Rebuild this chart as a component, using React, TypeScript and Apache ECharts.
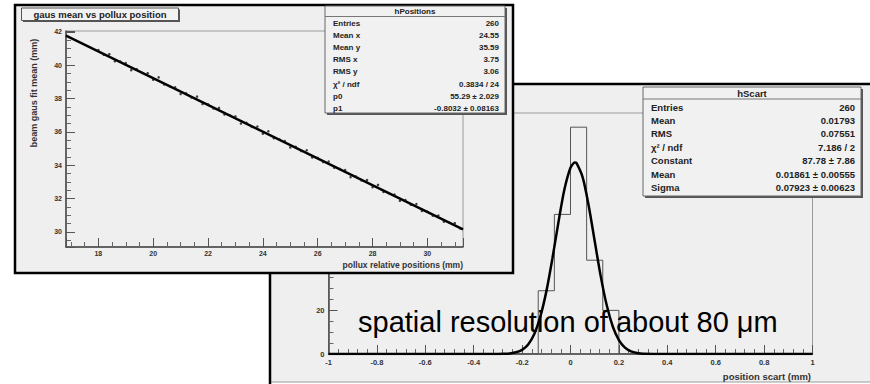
import { useEffect, useRef } from "react";
import * as echarts from "echarts";

// ---------- left plot: gaus mean vs pollux position ----------
const posX = [
  18.0, 18.2, 18.4, 18.6, 18.8, 19.0, 19.2, 19.4, 19.6, 19.8,
  20.0, 20.2, 20.4, 20.6, 20.8, 21.0, 21.2, 21.4, 21.6, 21.8,
  22.0, 22.2, 22.4, 22.6, 22.8, 23.0, 23.2, 23.4, 23.6, 23.8,
  24.0, 24.2, 24.4, 24.6, 24.8, 25.0, 25.2, 25.4, 25.6, 25.8,
  26.0, 26.2, 26.4, 26.6, 26.8, 27.0, 27.2, 27.4, 27.6, 27.8,
  28.0, 28.2, 28.4, 28.6, 28.8, 29.0, 29.2, 29.4, 29.6, 29.8,
  30.0, 30.2, 30.4, 30.6, 30.8, 31.0, 31.2,
];
const posY = [
  40.91, 40.62, 40.66, 40.23, 40.22, 40.13, 39.70, 39.76, 39.53, 39.52,
  39.13, 39.27, 38.84, 38.74, 38.67, 38.27, 38.32, 38.06, 38.12, 37.67,
  37.66, 37.40, 37.44, 37.05, 36.99, 36.93, 36.50, 36.55, 36.30, 36.32,
  35.89, 36.04, 35.62, 35.55, 35.45, 35.07, 35.11, 34.85, 34.90, 34.47,
  34.44, 34.19, 34.22, 33.85, 33.78, 33.71, 33.29, 33.32, 33.09, 33.11,
  32.68, 32.82, 32.40, 32.33, 32.25, 31.87, 31.91, 31.63, 31.68, 31.26,
  31.22, 30.98, 30.99, 30.62, 30.56, 30.53, 30.21,
];
const posFitX = [16.82, 31.3];
const posFitY = [41.78, 30.15];

const hPosLabels = ["Entries", "Mean x", "Mean y", "RMS x", "RMS y", "\u03C7\u00B2 / ndf", "p0", "p1"];
const hPosValues = ["260", "24.55", "35.59", "3.75", "3.06", "0.3834 / 24", "55.29 \u00B1 2.029", "-0.8032 \u00B1 0.08163"];

// ---------- right plot: position scart ----------
const scartRange = [-1, 1];
const scartCounts = [
  0, 0, 0, 0, 0, 0, 0, 0, 0, 0,
  0, 0, 0, 29, 64, 104, 43, 20, 0, 0,
  0, 0, 0, 0, 0, 0, 0, 0, 0, 0,
];
const gausX = [-1, -0.5, -0.3, -0.275, -0.25, -0.225, -0.2, -0.175, -0.15, -0.125, -0.1, -0.075, -0.05, -0.025, 0, 0.0186, 0.025, 0.05, 0.075, 0.1, 0.125, 0.15, 0.175, 0.2, 0.225, 0.25, 0.275, 0.3, 0.5, 1];
const gausY = [0, 0, 0.03, 0.1, 0.28, 0.77, 1.9, 4.4, 9.1, 17.0, 28.6, 43.7, 60.3, 75.5, 85.4, 87.8, 87.5, 81.1, 68.1, 51.8, 35.6, 22.2, 12.5, 6.4, 2.9, 1.2, 0.47, 0.16, 0, 0];

const hScartLabels = ["Entries", "Mean", "RMS", "\u03C7\u00B2 / ndf", "Constant", "Mean", "Sigma"];
const hScartValues = ["260", "0.01793", "0.07551", "7.186 / 2", "87.78 \u00B1 7.86", "0.01861 \u00B1 0.00555", "0.07923 \u00B1 0.00623"];

const FONT = "'Liberation Sans', Arial, Helvetica, sans-serif";
const PAD = "#efefef";

function statBox(
  x: number, y: number, w: number, h: number, title: string,
  labels: string[], values: string[], titleY: number, sepY: number,
  row0: number, step: number, fontSize: number, z: number
) {
  const els: any[] = [
    { type: "rect", z, shape: { x: x + 2, y: y + 2, width: w, height: h }, style: { fill: "#555" } },
    { type: "rect", z, shape: { x, y, width: w, height: h }, style: { fill: "#f1f1f1", stroke: "#666", lineWidth: 1 } },
    { type: "line", z, shape: { x1: x, y1: sepY, x2: x + w, y2: sepY }, style: { stroke: "#777", lineWidth: 1 } },
    {
      type: "text", z, x: x + w / 2, y: titleY,
      style: { text: title, align: "center", verticalAlign: "middle", fontSize, fontWeight: "bold", fontFamily: FONT, fill: "#222" },
    },
  ];
  labels.forEach((l, i) => {
    els.push({
      type: "text", z, x: x + 8, y: row0 + i * step,
      style: { text: l, align: "left", verticalAlign: "middle", fontSize, fontWeight: "bold", fontFamily: FONT, fill: "#222" },
    });
    els.push({
      type: "text", z, x: x + w - 6, y: row0 + i * step,
      style: { text: values[i], align: "right", verticalAlign: "middle", fontSize, fontWeight: "bold", fontFamily: FONT, fill: "#222" },
    });
  });
  return els;
}

function isMult(v: number, m: number) {
  return Math.abs(v / m - Math.round(v / m)) < 1e-6;
}

export default function App() {
  const ref = useRef<HTMLDivElement>(null);

  useEffect(() => {
    if (!ref.current) return;
    const chart = echarts.init(ref.current, undefined, { renderer: "svg" });

    const nb = scartCounts.length;
    const bw = (scartRange[1] - scartRange[0]) / nb;
    const histLine: number[][] = [[scartRange[0], 0]];
    scartCounts.forEach((c, i) => {
      const lo = scartRange[0] + i * bw;
      histLine.push([lo, c]);
      histLine.push([lo + bw, c]);
    });
    histLine.push([scartRange[1], 0]);

    const axisCommon = (z: number) => ({
      z,
      axisLine: { show: true, onZero: false, lineStyle: { color: "#444", width: 1.5 } },
      axisTick: { show: true, inside: true, length: 9, lineStyle: { color: "#555", width: 1 } },
      splitLine: { show: false },
    });

    const graphics: any[] = [
      // right panel background & border
      { type: "rect", z: 1, shape: { x: 270, y: 84, width: 610, height: 298 }, style: { fill: PAD } },
      { type: "line", z: 1, shape: { x1: 270, y1: 382, x2: 870, y2: 382 }, style: { stroke: "#9a9a9a", lineWidth: 1 } },
      { type: "line", z: 1, shape: { x1: 270, y1: 84, x2: 870, y2: 84 }, style: { stroke: "#000", lineWidth: 2.5 } },
      { type: "line", z: 1, shape: { x1: 270, y1: 84, x2: 270, y2: 384 }, style: { stroke: "#000", lineWidth: 2.5 } },
      {
        type: "text", z: 4, x: 811, y: 376,
        style: { text: "position scart (mm)", align: "right", verticalAlign: "middle", fontSize: 9.5, fontWeight: "bold", fontFamily: FONT, fill: "#333" },
      },
      ...statBox(643, 87, 218, 109, "hScart", hScartLabels, hScartValues, 93, 99, 107, 13.4, 9.5, 4),
      // left panel
      { type: "rect", z: 5, shape: { x: 15, y: 5, width: 498, height: 268 }, style: { fill: PAD, stroke: "#000", lineWidth: 2.5 } },
      {
        type: "text", z: 8, x: 463, y: 265,
        style: { text: "pollux relative positions (mm)", align: "right", verticalAlign: "middle", fontSize: 8.5, fontWeight: "bold", fontFamily: FONT, fill: "#333" },
      },
      {
        type: "text", z: 8, x: 34, y: 93, rotation: Math.PI / 2,
        style: { text: "beam gaus fit mean (mm)", align: "center", verticalAlign: "middle", fontSize: 9, fontWeight: "bold", fontFamily: FONT, fill: "#333" },
      },
      { type: "rect", z: 8, shape: { x: 23, y: 9.5, width: 157, height: 12.5 }, style: { fill: "#555" } },
      { type: "rect", z: 8, shape: { x: 21.5, y: 8, width: 157, height: 12.5 }, style: { fill: "#f2f2f2", stroke: "#555", lineWidth: 1 } },
      {
        type: "text", z: 8, x: 100, y: 14.5,
        style: { text: "gaus mean vs pollux position", align: "center", verticalAlign: "middle", fontSize: 9.5, fontWeight: "bold", fontFamily: FONT, fill: "#222" },
      },
      ...statBox(325, 6, 180, 107, "hPositions", hPosLabels, hPosValues, 11.5, 16.5, 23, 12.2, 8, 8),
      // annotation
      {
        type: "text", z: 20, x: 358, y: 322,
        style: { text: "spatial resolution of about 80 \u03BCm", align: "left", verticalAlign: "middle", fontSize: 29, fontFamily: "'Liberation Sans', Arial, sans-serif", fill: "#000" },
      },
    ];

    const option: any = {
      animation: false,
      backgroundColor: "#ffffff",
      textStyle: { fontFamily: FONT },
      grid: [
        { left: 66, top: 31, width: 397, height: 216, show: true, borderColor: "#999", borderWidth: 1, backgroundColor: "transparent", z: 6 },
        { left: 328.5, top: 113, width: 484, height: 241, show: true, borderColor: "#999", borderWidth: 1, backgroundColor: "transparent", z: 2 },
      ],
      xAxis: [
        {
          type: "value", gridIndex: 0, min: 16.82, max: 31.3, minInterval: 2, maxInterval: 2, splitNumber: 7,
          ...axisCommon(6),
          minorTick: { show: true, splitNumber: 4, length: 5, lineStyle: { color: "#666" } },
          axisLabel: { fontSize: 7, fontWeight: "bold", fontFamily: FONT, color: "#333", margin: 3, formatter: (v: number) => (isMult(v, 2) ? String(Math.round(v)) : "") },
        },
        {
          type: "value", gridIndex: 1, min: -1, max: 1, interval: 0.2,
          ...axisCommon(2),
          minorTick: { show: true, splitNumber: 5, length: 5, lineStyle: { color: "#666" } },
          axisLabel: { fontSize: 7.5, fontWeight: "bold", fontFamily: FONT, color: "#333", margin: 4, formatter: (v: number) => String(Math.round(v * 10) / 10) },
        },
      ],
      yAxis: [
        {
          type: "value", gridIndex: 0, min: 29.1, max: 42.05, minInterval: 2, maxInterval: 2, splitNumber: 6,
          ...axisCommon(6),
          minorTick: { show: true, splitNumber: 4, length: 5, lineStyle: { color: "#666" } },
          axisLabel: { fontSize: 7, fontWeight: "bold", fontFamily: FONT, color: "#333", margin: 4, formatter: (v: number) => (isMult(v, 2) ? String(Math.round(v)) : "") },
        },
        {
          type: "value", gridIndex: 1, min: 0, max: 110.5, interval: 20,
          ...axisCommon(2),
          minorTick: { show: true, splitNumber: 4, length: 5, lineStyle: { color: "#666" } },
          axisLabel: { fontSize: 7.5, fontWeight: "bold", fontFamily: FONT, color: "#333", margin: 4, formatter: (v: number) => (isMult(v, 20) ? String(Math.round(v)) : "") },
        },
      ],
      series: [
        {
          type: "line", xAxisIndex: 1, yAxisIndex: 1, z: 3, data: histLine, symbol: "none",
          lineStyle: { color: "#555", width: 1 }, silent: true,
        },
        {
          type: "line", xAxisIndex: 1, yAxisIndex: 1, z: 3, data: gausX.map((x, i) => [x, gausY[i]]), smooth: 0.3, symbol: "none",
          lineStyle: { color: "#000", width: 2.5 }, silent: true,
        },
        {
          type: "scatter", xAxisIndex: 0, yAxisIndex: 0, z: 7, data: posX.map((x, i) => [x, posY[i]]), symbol: "circle", symbolSize: 2.5,
          itemStyle: { color: "#111" }, silent: true,
        },
        {
          type: "line", xAxisIndex: 0, yAxisIndex: 0, z: 7, data: posFitX.map((x, i) => [x, posFitY[i]]), symbol: "none",
          lineStyle: { color: "#000", width: 2.5 }, silent: true,
        },
      ],
      graphic: { elements: graphics },
    };

    chart.setOption(option);
    return () => chart.dispose();
  }, []);

  return (
    <div
      ref={ref}
      style={{ position: "fixed", left: 0, top: 0, width: 870, height: 384, background: "#fff" }}
    />
  );
}
